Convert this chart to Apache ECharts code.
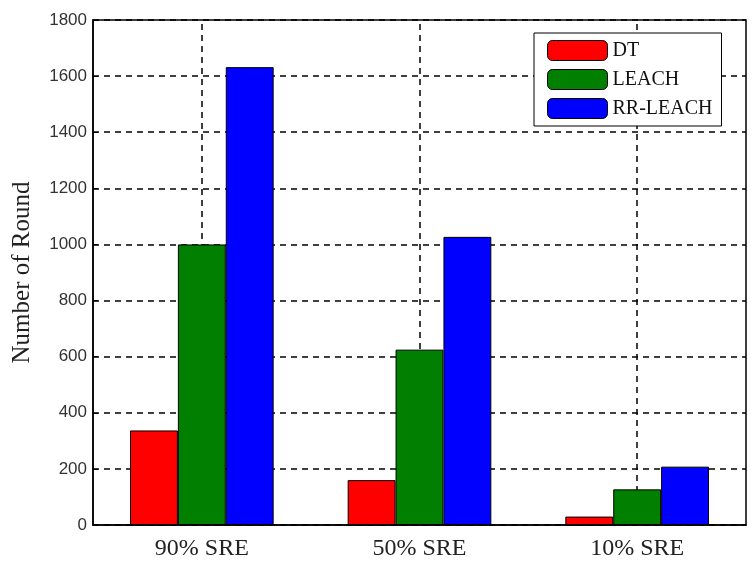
<!DOCTYPE html>
<html>
<head>
<meta charset="utf-8">
<script src="https://cdn.jsdelivr.net/npm/echarts@6/dist/echarts.min.js"></script>
<style>html,body{margin:0;padding:0;background:#fff;}#chart{width:753px;height:563px;}</style>
</head>
<body>
<div id="chart"></div>
<script>
const categories = ['90% SRE', '50% SRE', '10% SRE'];
const dtValues = [337, 160, 30];
const leachValues = [1000, 625, 127];
const rrLeachValues = [1632, 1027, 208];
const yTicks = [0, 200, 400, 600, 800, 1000, 1200, 1400, 1600, 1800];

const chart = echarts.init(document.getElementById('chart'));
const barBorder = { borderColor: '#000', borderWidth: 1 };
const option = {
  backgroundColor: '#fff',
  animation: false,
  grid: { left: 93, right: 7, top: 20, bottom: 38, show: true, borderColor: '#000', borderWidth: 1.5, backgroundColor: 'transparent' },
  legend: {
    orient: 'vertical',
    left: 534, top: 33,
    padding: [7, 9, 7, 13],
    itemWidth: 60, itemHeight: 20, itemGap: 8,
    backgroundColor: '#fff', borderColor: '#000', borderWidth: 1,
    icon: 'roundRect',
    textStyle: { fontFamily: 'Liberation Serif', fontSize: 20, color: '#111' },
    data: [
      { name: 'DT', itemStyle: { borderColor: '#000', borderWidth: 1 } },
      { name: 'LEACH', itemStyle: { borderColor: '#000', borderWidth: 1 } },
      { name: 'RR-LEACH', itemStyle: { borderColor: '#000', borderWidth: 1 } }
    ]
  },
  xAxis: {
    type: 'category',
    data: categories,
    axisLine: { lineStyle: { color: '#000', width: 1.5 } },
    axisTick: { show: false },
    axisLabel: { fontFamily: 'Liberation Serif', fontSize: 24, color: '#222', margin: 12 },
    splitLine: { show: false }
  },
  yAxis: {
    type: 'value',
    min: 0, max: 1800, interval: 200,
    name: 'Number of Round',
    nameLocation: 'middle',
    nameGap: 58,
    nameTextStyle: { fontFamily: 'Liberation Serif', fontSize: 25, color: '#222' },
    axisLine: { show: true, lineStyle: { color: '#000', width: 1.5 } },
    axisTick: { show: true, inside: true, length: 5, lineStyle: { color: '#000' } },
    axisLabel: { fontFamily: 'Liberation Sans', fontSize: 17, color: '#333', margin: 6,
      formatter: v => yTicks.includes(v) ? String(v) : '' },
    splitLine: { show: true, lineStyle: { color: '#000', type: [6, 5], width: 1.5 } }
  },
  series: [
    {
      type: 'line', data: [], z: 1, symbol: 'none', silent: true,
      markLine: {
        z: 1,
        symbol: 'none', silent: true, label: { show: false },
        lineStyle: { color: '#000', type: [6, 5], width: 1.5 },
        emphasis: { disabled: true },
        data: categories.map(c => ({ xAxis: c }))
      }
    },
    { name: 'DT', type: 'bar', data: dtValues, barGap: '0%', barCategoryGap: '34%', itemStyle: Object.assign({ color: '#ff0000' }, barBorder), z: 3 },
    { name: 'LEACH', type: 'bar', data: leachValues, barGap: '0%', barCategoryGap: '34%', itemStyle: Object.assign({ color: '#007f00' }, barBorder), z: 3 },
    { name: 'RR-LEACH', type: 'bar', data: rrLeachValues, barGap: '0%', barCategoryGap: '34%', itemStyle: Object.assign({ color: '#0000ff' }, barBorder), z: 3 }
  ]
};
chart.setOption(option);
</script>
</body>
</html>
